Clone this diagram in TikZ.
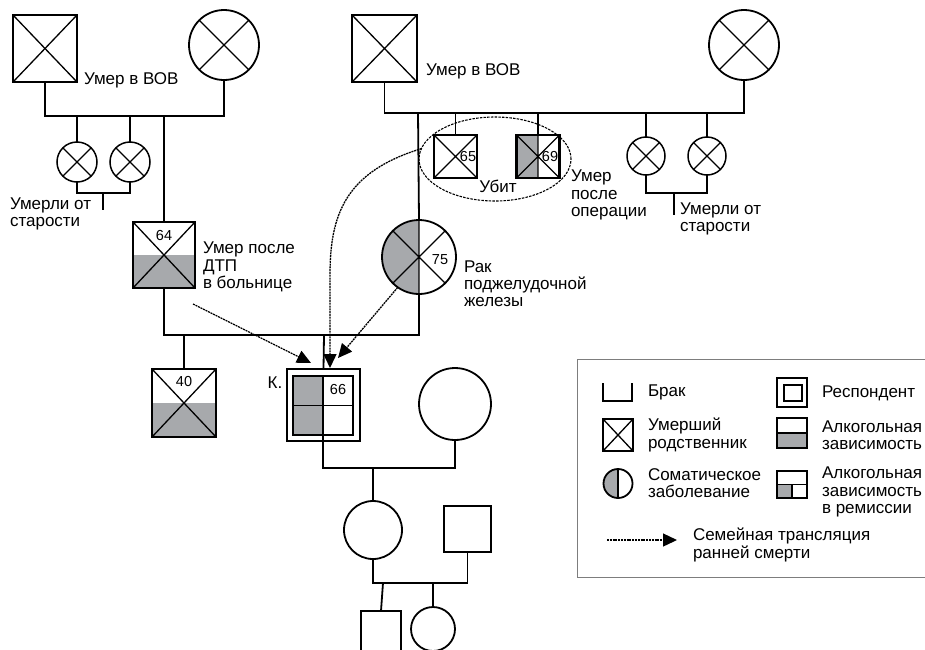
\documentclass[tikz,border=0pt]{standalone}
\usepackage{fontspec}
\setmainfont{Liberation Sans}
\usetikzlibrary{shapes.geometric,arrows.meta,calc}
\definecolor{gry}{RGB}{167,169,172}
\definecolor{legframe}{RGB}{125,125,125}
\begin{document}
\begin{tikzpicture}[x=1pt,y=-1pt,
  every node/.style={inner sep=0pt, outer sep=0pt},
  txt/.style={font=\fontsize{17}{17.2}\selectfont, align=left, anchor=west},
  num/.style={font=\fontsize{14.5}{16}\selectfont},
  pl/.style={line width=1.8pt, line join=miter},
  sq/.style={draw, line width=2.2pt, rectangle, fill=white},
  ci/.style={draw, line width=1.8pt, circle, fill=white},
  xl/.style={line width=1.3pt},
  xx/.style={path picture={\draw[xl] (path picture bounding box.north west)--(path picture bounding box.south east) (path picture bounding box.north east)--(path picture bounding box.south west);}},
  lowx/.style={path picture={\fill[gry] (path picture bounding box.west) rectangle (path picture bounding box.south east); \draw[xl] (path picture bounding box.north west)--(path picture bounding box.south east) (path picture bounding box.north east)--(path picture bounding box.south west);}},
  leftx/.style={path picture={\fill[gry] (path picture bounding box.north west) rectangle (path picture bounding box.south); \draw[xl] (path picture bounding box.north)--(path picture bounding box.south) (path picture bounding box.north west)--(path picture bounding box.south east) (path picture bounding box.north east)--(path picture bounding box.south west);}},
  lefth/.style={path picture={\fill[gry] (path picture bounding box.north west) rectangle (path picture bounding box.south); \draw[xl] (path picture bounding box.north)--(path picture bounding box.south);}},
  lowh/.style={path picture={\fill[gry] (path picture bounding box.west) rectangle (path picture bounding box.south east); \draw[xl] (path picture bounding box.west)--(path picture bounding box.east);}},
  quad/.style={path picture={\fill[gry] (path picture bounding box.north west) rectangle (path picture bounding box.south); \draw[xl] (path picture bounding box.north)--(path picture bounding box.south) (path picture bounding box.west)--(path picture bounding box.east);}},
  remis/.style={path picture={\fill[gry] (path picture bounding box.west) rectangle (path picture bounding box.south); \draw[xl] (path picture bounding box.center)--(path picture bounding box.south) (path picture bounding box.west)--(path picture bounding box.east);}},
  fam/.style={line width=1.3pt, dash pattern=on 2pt off 0.8pt, -{Triangle[length=14pt,width=13pt]}}
]
\clip (0,0) rectangle (925,649);
\fill[white] (0,0) rectangle (925,649);

% dashed ellipse (drawn first, under the squares)
\node[ellipse, draw, line width=1.1pt, dash pattern=on 2.5pt off 1.2pt, minimum width=152, minimum height=84] (ell) at (495,159) {};

% ---- left grandparents
\node[sq,xx,minimum width=64,minimum height=67] (gf1) at (45,48.5) {};
\node[ci,xx,minimum size=70] (gm1) at (224,45) {};
\node[ci,xx,minimum size=40,line width=1.5pt] (s1a) at (77,162) {};
\node[ci,xx,minimum size=40,line width=1.5pt] (s1b) at (130,162) {};
\node[sq,lowx,minimum width=62,minimum height=66] (f64) at (164,255) {};

% ---- right grandparents
\node[sq,xx,minimum width=65,minimum height=67] (gf2) at (384.5,48.5) {};
\node[ci,xx,minimum size=70] (gm2) at (744,45) {};
\node[sq,xx,minimum size=43] (b65) at (455.5,156.5) {};
\node[sq,leftx,minimum size=43] (b69) at (538,156.5) {};
\node[ci,leftx,minimum size=74] (m75) at (419,257) {};
\node[ci,xx,minimum size=38,line width=1.5pt] (s2a) at (646,156) {};
\node[ci,xx,minimum size=38,line width=1.5pt] (s2b) at (707,156) {};

% ---- generation of K.
\node[sq,lowx,minimum width=64,minimum height=68] (b40) at (184,403) {};
\node[draw,line width=1.4pt,minimum width=73,minimum height=72] (kout) at (323.5,405) {};
\node[sq,quad,minimum width=60,minimum height=59] (kin) at (323,405.5) {};
\node[ci,minimum size=72] (wk) at (455,404) {};
\node[ci,minimum size=58] (d) at (373,530) {};
\node[sq,minimum width=47,minimum height=46] (h) at (467.5,529) {};
\node[sq,minimum width=40,minimum height=50] (gs) at (381,636) {};
\node[ci,minimum size=44] (gd) at (433,629) {};

% ---- connectors
\coordinate (m1) at (164,116);
\draw[pl] (gf1.south) |- (m1) -| (gm1.south);
\draw[pl] (m1) -- (f64.north);
\draw[pl] (s1a.north) -- (s1a.north |- m1);
\draw[pl] (s1b.north) -- (s1b.north |- m1);
\coordinate (sb1) at (103,193);
\coordinate (sb1e) at (103,210);
\draw[pl] (s1a.south) |- (sb1) -| (s1b.south);
\draw[pl] (sb1) -- (sb1e);

\coordinate (m2) at (418,113);
\draw[pl] (gf2.south) |- (m2) -| (gm2.south);
\draw[pl] (m2) -- (m75.north);
\draw[pl] (b65.north) -- (b65.north |- m2);
\draw[pl] (b69.north) -- (b69.north |- m2);
\draw[pl] (s2a.north) -- (s2a.north |- m2);
\draw[pl] (s2b.north) -- (s2b.north |- m2);
\coordinate (sb2) at (674,193);
\coordinate (sb2e) at (674,215);
\draw[pl] (s2a.south) |- (sb2) -| (s2b.south);
\draw[pl] (sb2) -- (sb2e);

\coordinate (m3) at (324,335);
\draw[pl] (f64.south) |- (m3) -| (m75.south);
\draw[pl] (m3) -- (kout.north);
\draw[pl] (b40.north) -- (b40.north |- m3);

\coordinate (m4) at (373,468);
\draw[pl] (kin.south) |- (m4) -| (wk.south);
\draw[pl] (m4) -- (d.north);
\coordinate (m5) at (383,583);
\draw[pl] (d.south) |- (m5) -| (h.south);
\draw[pl] (m5) -- (gs.north);
\draw[pl] (gd.north) -- (gd.north |- m5);

% ---- family transmission arrows
\coordinate (a1) at (193,304);
\coordinate (t1) at (311,363);
\draw[fam] (a1) -- (t1);
\coordinate (t2) at (338,358);
\draw[fam] (m75.235) -- (t2);
\coordinate (t3) at (330,368);
\draw[fam] (ell.172) .. controls (345,172) and (330,215) .. (330,275) -- (t3);

% ---- labels
\node[txt] (l1) at (84,80) {Умер в ВОВ};
\node[txt] (l2) at (426,71) {Умер в ВОВ};
\node[txt] (l3) at (10,214) {Умерли от\\старости};
\node[txt] (l4) at (680,219) {Умерли от\\старости};
\node[txt] (l5) at (203,267) {Умер после\\ДТП\\в больнице};
\node[txt] (l6) at (571,195) {Умер\\после\\операции};
\node[txt] (l7) at (464,284) {Рак\\поджелудочной\\железы};
\node[font=\fontsize{17}{17.2}\selectfont] (l8) at (498,186) {Убит};
\node[font=\fontsize{17}{17.2}\selectfont] (lk) at (275,383) {К.};
\node[num] (n64) at (164,235) {64};
\node[num] (n40) at (184,381) {40};
\node[num] (n65) at (468,157) {65};
\node[num] (n69) at (550,157) {69};
\node[num] (n75) at (440,260) {75};
\node[num] (n66) at (338,389) {66};

% ---- legend
\node[draw=legframe,line width=0.9pt,minimum width=360,minimum height=218,anchor=north west] (leg) at (577,359) {};
\coordinate (bk1) at (603,383);
\coordinate (bk2) at (632,383);
\draw[pl] (bk1) -- ++(0,18) -| (bk2);
\node[sq,xx,minimum width=30,minimum height=32,line width=1.8pt] (ldead) at (618,435) {};
\node[ci,lefth,minimum size=29] (lsom) at (618,483.5) {};
\node[draw,line width=1.3pt,minimum width=30,minimum height=29] (lresp) at (792,392.5) {};
\node[draw,line width=2pt,minimum width=18,minimum height=16] (lresp2) at (792.5,393) {};
\node[sq,lowh,minimum width=30,minimum height=30,line width=1.8pt] (lalc) at (792,433) {};
\node[sq,remis,minimum width=30,minimum height=27,line width=1.8pt] (lrem) at (792,484.5) {};
\coordinate (la1) at (607,540);
\coordinate (la2) at (677,540);
\draw[fam] (la1) -- (la2);
\node[txt] (tbrak) at (648,392) {Брак};
\node[txt] (tdead) at (648,435) {Умерший\\родственник};
\node[txt] (tsom) at (648,483.5) {Соматическое\\заболевание};
\node[txt] (tresp) at (822,393) {Респондент};
\node[txt] (talc) at (822,435) {Алкогольная\\зависимость};
\node[txt] (trem) at (822,492) {Алкогольная\\зависимость\\в ремиссии};
\node[txt] (tfam) at (693,545) {Семейная трансляция\\ранней смерти};
\end{tikzpicture}
\end{document}
